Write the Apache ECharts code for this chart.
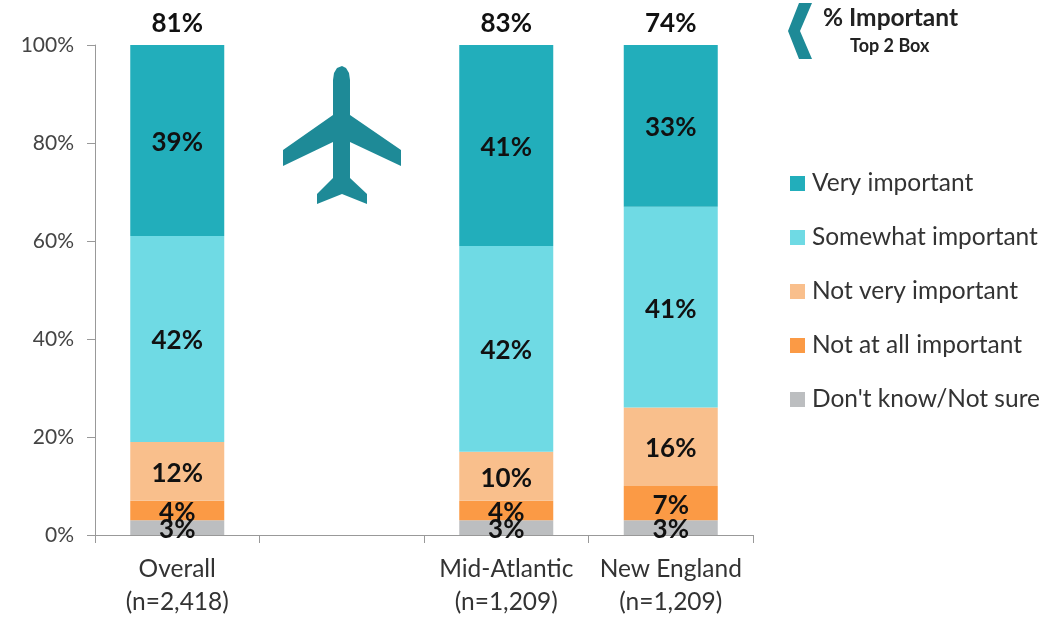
<!DOCTYPE html>
<html>
<head>
<meta charset="utf-8">
<title>% Important</title>
<script src="https://cdn.jsdelivr.net/npm/echarts@6/dist/echarts.min.js"></script>
<style>
  html, body { margin: 0; padding: 0; background: #fff; }
  #chart { width: 1064px; height: 620px; }
</style>
</head>
<body>
<div id="chart"></div>
<script>
// 第二个类目留空，飞机图标放在这里
const categories = ['Overall\n(n=2,418)', '', 'Mid-Atlantic\n(n=1,209)', 'New England\n(n=1,209)'];
const dontKnow = [3, null, 3, 3];
const notAtAll = [4, null, 4, 7];
const notVery = [12, null, 10, 16];
const somewhat = [42, null, 42, 41];
const veryImportant = [39, null, 41, 33];
const top2Box = [81, null, 83, 74];
const legendNames = ['Very important', 'Somewhat important', 'Not very important', 'Not at all important', "Don't know/Not sure"];

const fontName = 'Lato';
const myEChart = echarts.init(document.getElementById('chart'));

function barSeries(name, data, color) {
  return {
    name: name,
    type: 'bar',
    stack: 'Total',
    barWidth: 94,
    data: data,
    itemStyle: { color: color },
    label: {
      show: true,
      position: 'inside',
      offset: [0, 2],
      formatter: '{c}%',
      fontFamily: fontName,
      fontSize: 26,
      fontWeight: 'bold',
      color: '#111'
    }
  };
}

const option = {
  animation: false,
  backgroundColor: '#fff',
  grid: { left: 95, right: 311, top: 45, bottom: 85 },
  legend: {
    data: legendNames,
    orient: 'vertical',
    left: 790,
    top: 171,
    padding: 0,
    icon: 'rect',
    itemWidth: 15,
    itemHeight: 15,
    itemGap: 29,
    selectedMode: false,
    textStyle: { fontFamily: fontName, fontSize: 24.5, color: '#333', padding: [0, 0, 0, 2] }
  },
  xAxis: {
    type: 'category',
    data: categories,
    axisLine: { lineStyle: { color: '#999', width: 1 } },
    axisTick: { show: true, length: 8, lineStyle: { color: '#999' } },
    axisLabel: { fontFamily: fontName, fontSize: 24.5, color: '#333', lineHeight: 33, margin: 18, interval: 0 }
  },
  yAxis: {
    type: 'value',
    min: 0,
    max: 100,
    interval: 20,
    axisLine: { show: true, lineStyle: { color: '#999', width: 1 } },
    axisTick: { show: true, length: 8, lineStyle: { color: '#999' } },
    axisLabel: { fontFamily: fontName, fontSize: 21, color: '#444', margin: 21, formatter: '{value}%' },
    splitLine: { show: false }
  },
  series: [
    barSeries("Don't know/Not sure", dontKnow, '#BCBEC0'),
    barSeries('Not at all important', notAtAll, '#FB9A45'),
    barSeries('Not very important', notVery, '#F9BF8C'),
    barSeries('Somewhat important', somewhat, '#6FDAE4'),
    barSeries('Very important', veryImportant, '#22AEBB'),
    {
      // 顶部 Top 2 Box 数字，放在柱顶
      name: 'Top 2 Box',
      type: 'scatter',
      symbolSize: 0,
      silent: true,
      itemStyle: { opacity: 1 },
      data: categories.map((c, i) => top2Box[i] === null ? null : [i, 100, top2Box[i]]),
      label: {
        show: true,
        position: 'top',
        distance: 8,
        formatter: p => p.value[2] + '%',
        fontFamily: fontName,
        fontSize: 26,
        fontWeight: 'bold',
        color: '#111'
      }
    }
  ],
  graphic: [
    {
      // 飞机图标
      type: 'polygon',
      shape: {
        points: [[342, 66], [346, 68], [349, 73], [350, 80], [350, 115], [401, 150], [401, 166], [350, 142], [350, 178], [367, 194], [367, 204], [342, 194], [317, 204], [317, 194], [333, 178], [333, 142], [283, 166], [283, 150], [333, 115], [333, 80], [334, 73], [337, 68]]
      },
      style: { fill: '#1E8A97' }
    },
    {
      type: 'polygon',
      shape: { points: [[799, 3], [812, 3], [800, 31], [812, 59], [799, 59], [788, 31]] },
      style: { fill: '#1E8A97' }
    },
    {
      type: 'text',
      left: 823,
      top: 6,
      style: { text: '% Important', fontFamily: fontName, fontSize: 24.5, fontWeight: 'bold', fill: '#222' }
    },
    {
      type: 'text',
      left: 850,
      top: 37,
      style: { text: 'Top 2 Box', fontFamily: fontName, fontSize: 18, fontWeight: 'bold', fill: '#222' }
    }
  ]
};
myEChart.setOption(option);
</script>
</body>
</html>
